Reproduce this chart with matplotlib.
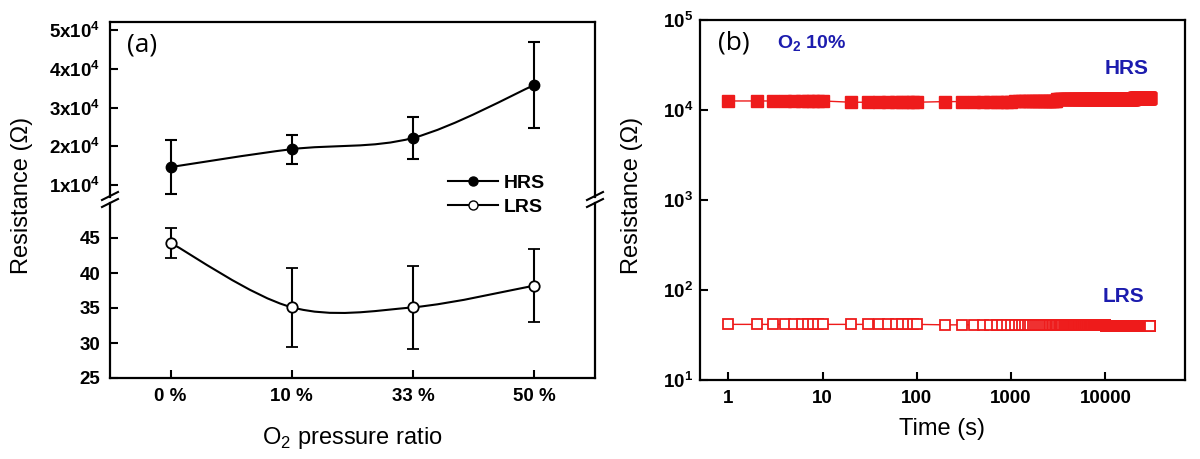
import numpy as np
import matplotlib
matplotlib.use('Agg')
import matplotlib.pyplot as plt
from matplotlib.path import Path
from matplotlib.patches import PathPatch
from matplotlib.lines import Line2D

plt.rcParams['font.family'] = ['Liberation Sans', 'DejaVu Sans']
plt.rcParams['mathtext.fontset'] = 'custom'
plt.rcParams['mathtext.rm'] = 'Liberation Sans'
plt.rcParams['mathtext.bf'] = 'Liberation Sans:bold'

# (a) resistance vs O2 pressure ratio
ratio_labels = ['0 %', '10 %', '33 %', '50 %']
hrs_a = [1.47e4, 1.93e4, 2.22e4, 3.58e4]
hrs_a_err = [0.69e4, 0.37e4, 0.55e4, 1.10e4]
lrs_a = [44.3, 35.1, 35.1, 38.2]
lrs_a_err = [2.2, 5.6, 5.9, 5.2]

# (b) retention at O2 10%: sampling 1 s, 10 s, then 100 s steps
time_b = np.concatenate([np.arange(1, 11), np.arange(20, 101, 10), np.arange(200, 30001, 100)])
# resistance readings per time stretch: (value, number of points)
hrs_b_runs = [(1.26e4, 10), (1.22e4, 9), (1.24e4, 9), (1.27e4, 20), (1.31e4, 70), (1.34e4, 100), (1.36e4, 100)]
lrs_b_runs = [(41.5, 19), (41.0, 29), (40.5, 70), (40.2, 100), (40.0, 100)]
hrs_b = np.concatenate([[v] * n for v, n in hrs_b_runs])
lrs_b = np.concatenate([[v] * n for v, n in lrs_b_runs])

red = '#ee1b1b'
blue = '#1c1cae'

def smooth_curve(ax, xs, ys, **kw):
    # catmull-rom through the points, drawn as bezier segments
    pts = np.column_stack([xs, ys]).astype(float)
    n = len(pts)
    verts = [pts[0]]
    codes = [Path.MOVETO]
    for i in range(n - 1):
        p0, p1, p2, p3 = pts[max(i - 1, 0)], pts[i], pts[i + 1], pts[min(i + 2, n - 1)]
        verts += [p1 + (p2 - p0) / 6, p2 - (p3 - p1) / 6, p2]
        codes += [Path.CURVE4] * 3
    ax.add_patch(PathPatch(Path(verts, codes), fill=False, **kw))

fig = plt.figure(figsize=(12, 4.59), dpi=100)
W, H = 1200, 459

def box(x0, y0, x1, y1):
    return [x0 / W, 1 - y1 / H, (x1 - x0) / W, (y1 - y0) / H]

ax_top = fig.add_axes(box(110, 22, 595, 197))
ax_bot = fig.add_axes(box(110, 203, 595, 378))
ax_b = fig.add_axes(box(700, 20, 1185, 380))

x = np.arange(len(ratio_labels))
tick_kw = dict(direction='in', length=6, width=1.5, labelsize=13.5)

smooth_curve(ax_top, x, hrs_a, color='black', lw=1.5, zorder=2)
ax_top.errorbar(x, hrs_a, yerr=hrs_a_err, fmt='o', color='black', ms=7.5,
                capsize=4, elinewidth=1.5, capthick=1.5, zorder=3)
smooth_curve(ax_bot, x, lrs_a, color='black', lw=1.5, zorder=2)
ax_bot.errorbar(x, lrs_a, yerr=lrs_a_err, fmt='o', color='black', mfc='white', ms=7.5,
                mew=1.3, capsize=4, elinewidth=1.5, capthick=1.5, zorder=3)

for ax in (ax_top, ax_bot):
    ax.set_xlim(-0.5, 3.5)
    for s in ax.spines.values():
        s.set_linewidth(1.6)
    ax.tick_params(axis='both', **tick_kw, pad=7)
    for lab in ax.get_yticklabels():
        lab.set_fontweight('bold')

ax_top.set_ylim(0.7e4, 5.2e4)
ax_top.set_yticks([1e4, 2e4, 3e4, 4e4, 5e4])
ax_top.set_yticklabels([r'$\mathbf{%dx10^{4}}$' % k for k in range(1, 6)])
ax_top.spines['bottom'].set_visible(False)
ax_top.set_xticks([])

ax_bot.set_ylim(25, 50)
ax_bot.set_yticks([25, 30, 35, 40, 45])
ax_bot.set_yticklabels(['25', '30', '35', '40', '45'], fontweight='bold')
ax_bot.spines['top'].set_visible(False)
ax_bot.set_xticks(x)
ax_bot.set_xticklabels(ratio_labels, fontweight='bold')

# axis break marks
for xb in (110, 595):
    for yb in (196, 203):
        fig.add_artist(Line2D([(xb - 8) / W, (xb + 8) / W], [1 - (yb + 4) / H, 1 - (yb - 4) / H],
                              color='black', lw=1.5))

handles = [Line2D([], [], color='black', marker='o', ms=6.5, lw=1.5),
           Line2D([], [], color='black', marker='o', mfc='white', ms=6.5, lw=1.5)]
fig.legend(handles, ['HRS', 'LRS'], loc='center left', bbox_to_anchor=(430 / W, 1 - 195 / H),
           frameon=False, handlelength=2.6, handletextpad=0.3, labelspacing=0.35,
           prop={'weight': 'bold', 'size': 14})

fig.text(22 / W, 1 - 195 / H, 'Resistance (\u03a9)', rotation=90, ha='center', va='center', fontsize=17)
fig.text(352 / W, 1 - 438 / H, r'O$_2$ pressure ratio', ha='center', va='center', fontsize=17)
fig.text(127 / W, 1 - 45 / H, '(a)', family='Open Sans', fontsize=19, va='center')

# (b)
ax_b.plot(time_b, hrs_b, 's-', color=red, ms=8, lw=1)
ax_b.plot(time_b, lrs_b, 's-', color=red, mfc='white', mec=red, mew=1.3, ms=7.5, lw=1)
ax_b.set_xscale('log')
ax_b.set_yscale('log')
ax_b.set_xlim(0.5, 7e4)
ax_b.set_ylim(10, 1e5)
ax_b.set_xticks([1, 10, 100, 1000, 10000])
ax_b.set_xticklabels(['1', '10', '100', '1000', '10000'], fontweight='bold')
ax_b.set_yticks([10, 100, 1e3, 1e4, 1e5])
ax_b.set_yticklabels([r'$\mathbf{10^{%d}}$' % k for k in range(1, 6)])
ax_b.minorticks_off()
ax_b.tick_params(axis='y', **tick_kw, pad=5)
ax_b.tick_params(axis='x', **tick_kw, pad=7)
ax_b.tick_params(top=False, right=False)
for s in ax_b.spines.values():
    s.set_linewidth(1.6)

ax_b.text(1127 / W, 1 - 68 / H, 'HRS', transform=fig.transFigure, color=blue,
          fontsize=15, fontweight='bold', ha='center', va='center')
ax_b.text(1123 / W, 1 - 296 / H, 'LRS', transform=fig.transFigure, color=blue,
          fontsize=15, fontweight='bold', ha='center', va='center')
fig.text(777 / W, 1 - 43 / H, r'$\mathbf{O_2}$ 10%', color=blue, fontsize=14,
         fontweight='bold', va='center')
fig.text(718 / W, 1 - 43 / H, '(b)', family='Open Sans', fontsize=19, va='center')
fig.text(632 / W, 1 - 195 / H, 'Resistance (\u03a9)', rotation=90, ha='center', va='center', fontsize=17)
fig.text(942 / W, 1 - 429 / H, 'Time (s)', ha='center', va='center', fontsize=17)

fig.savefig('out.png', dpi=100)
